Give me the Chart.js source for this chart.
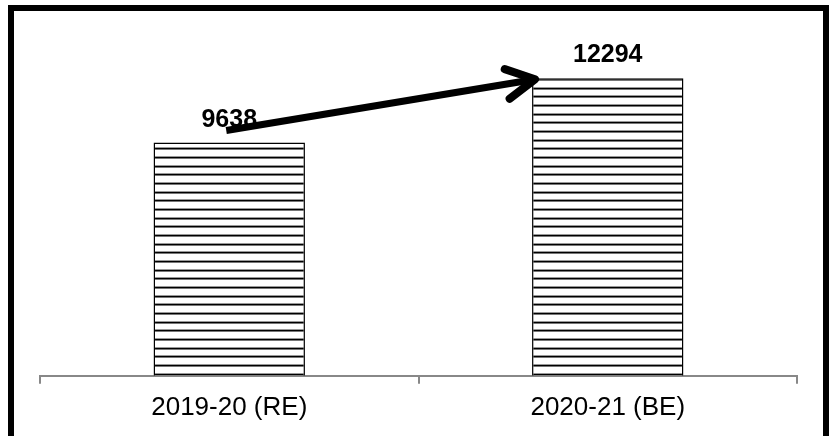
<!DOCTYPE html>
<html>
  <head>
    <meta charset="utf-8" />
    <title>RE vs BE</title>
    <script src="https://cdn.jsdelivr.net/npm/chart.js"></script>
    <style>
      html, body { margin: 0; padding: 0; background: #fff; overflow: hidden; }
      #wrap { position: absolute; left: 0; top: 0; width: 830px; height: 436px; }
      #frame {
        position: absolute; left: 8px; top: 5px; width: 809px; height: 450px;
        border: 6px solid #000; pointer-events: none;
      }
    </style>
  </head>
  <body>
    <div id="wrap"><canvas id="myChart"></canvas></div>
    <div id="frame"></div>
    <script>
      // values
      const categories = ['2019-20 (RE)', '2020-21 (BE)'];
      const amounts = [9638, 12294];
      const yMax = 14000;

      // horizontal line hatch like the original fill
      function hatch() {
        const c = document.createElement('canvas');
        c.width = 4;
        c.height = 26;
        const g = c.getContext('2d');
        g.fillStyle = '#fff';
        g.fillRect(0, 0, 4, 26);
        [0, 9, 17].forEach(function (y0) {
          g.fillStyle = '#999';
          g.fillRect(0, y0, 4, 1);
          g.fillStyle = '#000';
          g.fillRect(0, y0 + 1, 4, 1);
          g.fillStyle = '#777';
          g.fillRect(0, y0 + 2, 4, 1);
        });
        return document.createElement('canvas').getContext('2d').createPattern(c, 'repeat');
      }

      const labelsAndArrow = {
        id: 'labelsAndArrow',
        afterDatasetsDraw(chart) {
          const ctx = chart.ctx;
          const bars = chart.getDatasetMeta(0).data;
          ctx.save();
          ctx.fillStyle = '#000';
          ctx.font = 'bold 25px "Liberation Sans", Arial, sans-serif';
          ctx.textAlign = 'center';
          ctx.textBaseline = 'alphabetic';
          bars.forEach(function (b, i) {
            ctx.fillText(String(amounts[i]), b.x, b.y - 16);
          });

          // arrow from first bar to second
          const a = bars[0], b = bars[1];
          const x0 = a.x - 3, y0 = a.y - 12;
          const x1 = b.x - b.width / 2 + 3, y1 = b.y + 1;
          ctx.strokeStyle = '#000';
          ctx.lineWidth = 7;
          ctx.lineCap = 'butt';
          ctx.beginPath();
          ctx.moveTo(x0, y0);
          ctx.lineTo(x1 - 4, y1 + 0.7);
          ctx.stroke();
          const ang = Math.atan2(y0 - y1, x0 - x1);
          const len = 32, spread = 28 * Math.PI / 180;
          ctx.lineWidth = 8;
          ctx.lineCap = 'round';
          ctx.lineJoin = 'round';
          ctx.beginPath();
          ctx.moveTo(x1 + len * Math.cos(ang - spread), y1 + len * Math.sin(ang - spread));
          ctx.lineTo(x1, y1);
          ctx.lineTo(x1 + len * Math.cos(ang + spread), y1 + len * Math.sin(ang + spread));
          ctx.stroke();
          ctx.restore();
        }
      };

      const data = {
        labels: categories,
        datasets: [{
          data: amounts,
          backgroundColor: hatch(),
          borderColor: '#000',
          borderWidth: 1.5,
          borderSkipped: 'bottom',
          categoryPercentage: 1,
          barPercentage: 0.4
        }]
      };

      const config = {
        type: 'bar',
        data: data,
        options: {
          responsive: true,
          maintainAspectRatio: false,
          animation: false,
          layout: { padding: { left: 40, right: 33, top: 37, bottom: 5 } },
          plugins: { legend: { display: false }, tooltip: { enabled: false } },
          scales: {
            x: {
              grid: { display: true, drawOnChartArea: false, drawTicks: true, tickLength: 8, color: '#888', lineWidth: 2 },
              border: { display: true, color: '#888', width: 2 },
              ticks: { color: '#000', padding: 8, font: { family: '"Liberation Sans", Arial, sans-serif', size: 26 } }
            },
            y: {
              display: false,
              min: 0,
              max: yMax
            }
          }
        },
        plugins: [labelsAndArrow]
      };

      new Chart(document.getElementById('myChart'), config);
    </script>
  </body>
</html>
